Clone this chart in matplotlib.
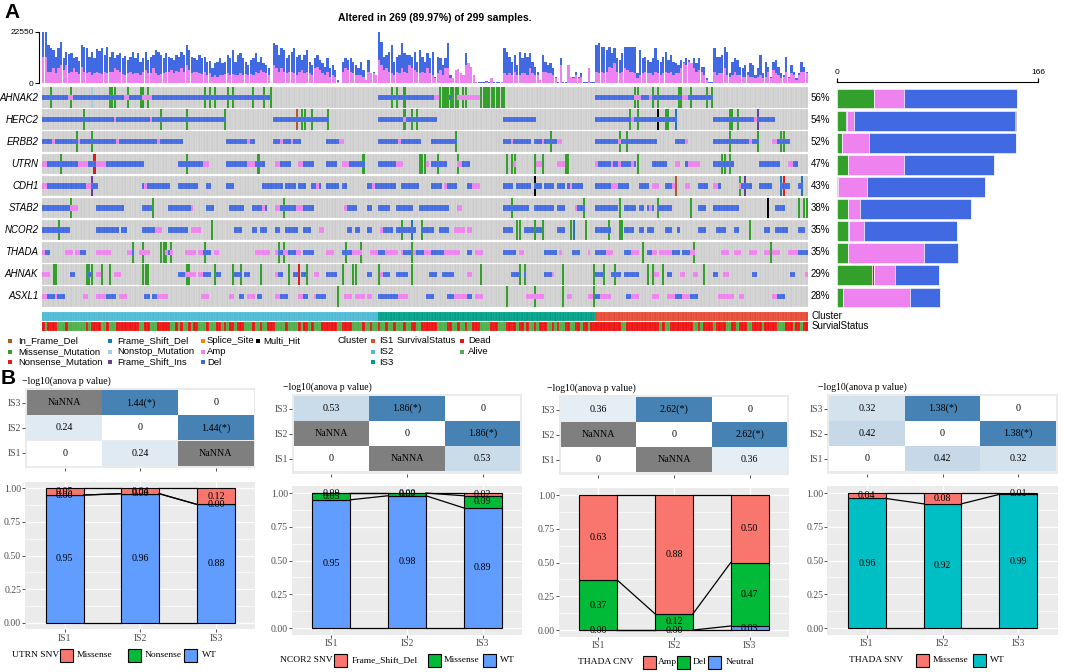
import numpy as np
import matplotlib
matplotlib.use('Agg')
import matplotlib.pyplot as plt
from matplotlib.patches import Rectangle

plt.rcParams['font.family'] = ['Liberation Sans', 'DejaVu Sans']

# ---------------- panel A data ----------------
n_samples = 299
genes = ['AHNAK2', 'HERC2', 'ERBB2', 'UTRN', 'CDH1', 'STAB2', 'NCOR2', 'THADA', 'AHNAK', 'ASXL1']
gene_pct = ['56%', '54%', '52%', '47%', '43%', '38%', '35%', '35%', '29%', '28%']

# sample order: IS2, IS3, IS1
cluster_names = ['IS2', 'IS3', 'IS1']
cluster_sizes = [131, 85, 83]

# dead sample ranges (rest alive)
dead_ranges = [(0, 0), (2, 5), (9, 9), (17, 17), (19, 22), (25, 25), (29, 37), (40, 41), (45, 49),
               (52, 52), (54, 54), (57, 57), (59, 60), (64, 64), (68, 69), (71, 71), (73, 74), (76, 78),
               (82, 82), (85, 85), (88, 90), (95, 95), (100, 100), (102, 103), (105, 105), (109, 114),
               (117, 120), (125, 125), (128, 128), (131, 131), (134, 134), (137, 137), (141, 141),
               (144, 145), (148, 153), (158, 159), (162, 162), (165, 165), (168, 170), (175, 177),
               (181, 184), (186, 187), (189, 189), (192, 192), (194, 196), (199, 199), (201, 201),
               (204, 205), (208, 209), (211, 212), (214, 225), (228, 240), (242, 242), (245, 253),
               (256, 256), (258, 261), (263, 266), (269, 270), (272, 274), (277, 280), (282, 286),
               (290, 292), (294, 295), (297, 298)]

# CNV calls per sample (start, end, type)   D = Del, A = Amp
cnv_AHNAK2 = [(0, 88, 'D'), (10, 11, 'A'), (32, 33, 'A'), (39, 42, 'A'), (131, 152, 'D'), (153, 154, 'A'),
              (159, 159, 'D'), (162, 170, 'A'), (216, 261, 'D'), (231, 233, 'A'), (237, 237, 'A'), (250, 251, 'A')]
cnv_HERC2 = [(0, 71, 'D'), (28, 28, 'A'), (42, 42, 'A'), (90, 111, 'D'), (131, 153, 'D'), (141, 141, 'A'),
             (180, 192, 'D'), (216, 247, 'D'), (230, 230, 'A'), (262, 285, 'D'), (278, 278, 'A')]
cnv_ERBB2 = [(0, 54, 'D'), (4, 4, 'A'), (14, 14, 'A'), (29, 29, 'A'), (45, 45, 'A'), (72, 82, 'D'), (80, 80, 'A'),
             (90, 100, 'D'), (93, 93, 'A'), (97, 97, 'A'), (111, 115, 'D'), (116, 117, 'A'), (131, 147, 'D'),
             (139, 139, 'A'), (152, 161, 'D'), (180, 190, 'D'), (183, 183, 'A'), (192, 200, 'D'), (195, 195, 'A'),
             (201, 202, 'A'), (216, 239, 'D'), (225, 225, 'A'), (247, 250, 'D'), (251, 251, 'A'), (262, 279, 'D'),
             (276, 276, 'A'), (285, 286, 'A'), (287, 291, 'D')]
cnv_UTRN = [(0, 1, 'A'), (2, 13, 'D'), (14, 17, 'A'), (18, 20, 'D'), (21, 24, 'A'), (25, 39, 'D'), (53, 62, 'D'),
            (63, 64, 'A'), (72, 79, 'D'), (80, 82, 'A'), (83, 86, 'D'), (91, 92, 'A'), (93, 96, 'D'), (100, 101, 'A'),
            (102, 105, 'D'), (111, 114, 'D'), (117, 119, 'A'), (120, 125, 'D'), (131, 137, 'D'), (138, 140, 'A'),
            (150, 150, 'A'), (152, 157, 'D'), (162, 163, 'A'), (164, 166, 'D'), (184, 184, 'A'), (193, 194, 'A'),
            (201, 203, 'A'), (216, 231, 'D'), (216, 216, 'A'), (222, 222, 'A'), (225, 225, 'A'), (230, 230, 'A'),
            (238, 243, 'D'), (247, 248, 'A'), (251, 251, 'D'), (252, 256, 'A'), (262, 269, 'D'), (280, 287, 'D'),
            (291, 292, 'A'), (293, 294, 'D')]
cnv_CDH1 = [(0, 1, 'A'), (2, 18, 'D'), (17, 18, 'A'), (19, 21, 'D'), (39, 49, 'D'), (40, 40, 'A'), (53, 60, 'D'),
            (64, 65, 'D'), (72, 74, 'D'), (86, 93, 'D'), (95, 98, 'D'), (100, 102, 'D'), (105, 108, 'D'),
            (107, 107, 'A'), (111, 115, 'D'), (117, 118, 'D'), (127, 137, 'D'), (129, 129, 'A'), (140, 146, 'D'),
            (152, 155, 'D'), (157, 157, 'A'), (158, 161, 'D'), (166, 167, 'D'), (168, 170, 'A'), (180, 183, 'D'),
            (185, 190, 'D'), (192, 194, 'D'), (196, 199, 'D'), (201, 203, 'D'), (205, 210, 'D'), (206, 206, 'A'),
            (216, 228, 'D'), (222, 224, 'A'), (233, 236, 'D'), (238, 240, 'A'), (243, 245, 'D'), (246, 246, 'A'),
            (251, 252, 'A'), (256, 259, 'D'), (262, 263, 'A'), (264, 264, 'D'), (272, 272, 'A'), (273, 276, 'D'),
            (280, 284, 'D'), (288, 291, 'D'), (295, 296, 'D')]
cnv_STAB2 = [(0, 10, 'D'), (11, 13, 'A'), (21, 31, 'D'), (39, 42, 'D'), (49, 57, 'D'), (58, 58, 'A'), (64, 66, 'D'),
             (73, 78, 'D'), (82, 87, 'D'), (86, 86, 'A'), (91, 92, 'A'), (93, 99, 'D'), (99, 99, 'A'),
             (100, 101, 'A'), (102, 105, 'D'), (118, 118, 'A'), (119, 122, 'D'), (127, 128, 'D'), (131, 135, 'D'),
             (138, 144, 'D'), (147, 158, 'D'), (162, 163, 'A'), (180, 189, 'D'), (192, 199, 'D'), (201, 203, 'D'),
             (208, 208, 'A'), (209, 211, 'D'), (216, 224, 'D'), (227, 231, 'D'), (233, 234, 'D'), (236, 238, 'D'),
             (237, 237, 'A'), (240, 245, 'D'), (256, 258, 'D'), (262, 271, 'D'), (286, 289, 'D')]
cnv_NCOR2 = [(0, 10, 'D'), (21, 29, 'D'), (31, 32, 'D'), (39, 46, 'D'), (44, 46, 'A'), (49, 56, 'D'), (58, 61, 'A'),
             (75, 77, 'D'), (82, 83, 'D'), (85, 87, 'D'), (91, 92, 'D'), (95, 99, 'D'), (102, 104, 'D'),
             (108, 109, 'A'), (119, 120, 'D'), (122, 123, 'D'), (127, 128, 'D'), (132, 136, 'D'), (132, 132, 'A'),
             (138, 145, 'D'), (148, 152, 'D'), (155, 158, 'D'), (161, 164, 'A'), (166, 167, 'A'), (180, 183, 'D'),
             (188, 191, 'D'), (193, 194, 'D'), (201, 203, 'D'), (216, 221, 'D'), (227, 230, 'D'), (233, 234, 'D'),
             (236, 238, 'D'), (243, 245, 'D'), (248, 248, 'D'), (256, 258, 'D'), (263, 266, 'D'), (270, 271, 'D'),
             (282, 283, 'D'), (286, 290, 'D'), (295, 297, 'D')]
cnv_THADA = [(0, 0, 'A'), (1, 2, 'D'), (9, 11, 'A'), (13, 14, 'A'), (15, 16, 'D'), (21, 26, 'A'), (33, 34, 'A'),
             (35, 35, 'D'), (38, 41, 'A'), (48, 50, 'A'), (49, 49, 'D'), (56, 59, 'A'), (61, 62, 'A'), (63, 65, 'D'),
             (67, 68, 'A'), (83, 88, 'A'), (91, 100, 'A'), (92, 93, 'D'), (96, 98, 'D'), (102, 105, 'D'),
             (111, 113, 'A'), (117, 120, 'D'), (121, 124, 'A'), (128, 130, 'A'), (131, 133, 'D'), (134, 138, 'A'),
             (140, 140, 'A'), (141, 143, 'D'), (145, 151, 'A'), (146, 148, 'D'), (152, 156, 'D'), (157, 162, 'A'),
             (166, 167, 'D'), (169, 171, 'A'), (180, 184, 'D'), (186, 187, 'A'), (196, 200, 'D'), (202, 202, 'A'),
             (207, 209, 'D'), (213, 213, 'A'), (216, 219, 'D'), (220, 222, 'A'), (227, 229, 'D'), (230, 232, 'A'),
             (236, 237, 'D'), (238, 239, 'A'), (241, 245, 'A'), (246, 248, 'D'), (250, 252, 'D'), (253, 254, 'A'),
             (265, 267, 'A'), (270, 272, 'A'), (276, 278, 'A'), (282, 283, 'A'), (285, 287, 'A'), (291, 294, 'A'),
             (295, 298, 'D')]
cnv_AHNAK = [(0, 2, 'A'), (11, 12, 'D'), (18, 18, 'D'), (21, 22, 'A'), (28, 30, 'A'), (53, 55, 'D'), (56, 59, 'A'),
             (61, 62, 'A'), (63, 65, 'D'), (68, 69, 'D'), (75, 77, 'D'), (79, 80, 'D'), (91, 91, 'A'), (92, 93, 'D'),
             (98, 99, 'D'), (101, 102, 'D'), (106, 107, 'A'), (111, 114, 'D'), (127, 128, 'D'), (132, 132, 'A'),
             (133, 135, 'D'), (138, 142, 'D'), (151, 153, 'D'), (156, 160, 'D'), (166, 167, 'A'), (183, 185, 'D'),
             (188, 188, 'D'), (196, 198, 'D'), (199, 199, 'A'), (216, 218, 'D'), (222, 225, 'D'), (227, 232, 'D'),
             (239, 240, 'A'), (244, 245, 'D'), (249, 250, 'A'), (254, 255, 'A'), (262, 263, 'D'), (266, 267, 'A'),
             (277, 278, 'D'), (292, 293, 'D'), (298, 298, 'A')]
cnv_ASXL1 = [(0, 1, 'A'), (2, 4, 'D'), (5, 5, 'A'), (6, 8, 'D'), (16, 17, 'A'), (21, 24, 'A'), (25, 28, 'D'),
             (30, 32, 'A'), (40, 41, 'D'), (43, 44, 'D'), (45, 48, 'A'), (62, 64, 'A'), (73, 74, 'A'), (77, 78, 'D'),
             (80, 82, 'A'), (84, 85, 'D'), (91, 92, 'A'), (93, 95, 'D'), (100, 101, 'A'), (102, 103, 'D'),
             (106, 106, 'A'), (107, 110, 'D'), (118, 120, 'A'), (122, 125, 'A'), (127, 128, 'A'), (131, 138, 'D'),
             (139, 142, 'A'), (150, 152, 'D'), (158, 160, 'D'), (161, 165, 'A'), (166, 167, 'D'), (169, 171, 'A'),
             (189, 195, 'A'), (205, 206, 'A'), (213, 214, 'A'), (216, 217, 'D'), (218, 221, 'A'), (228, 229, 'D'),
             (230, 232, 'A'), (238, 240, 'A'), (244, 246, 'A'), (247, 249, 'D'), (250, 252, 'A'), (253, 255, 'D'),
             (264, 269, 'A'), (272, 273, 'A'), (285, 286, 'A'), (287, 289, 'D')]

# mutation calls per sample (start, end, class)
# M Missense, N Nonsense, F Frame_Shift_Del, I Frame_Shift_Ins, R In_Frame_Del, T Nonstop, X Multi_Hit
snv_AHNAK2 = [(3, 3, 'M'), (11, 11, 'M'), (19, 19, 'T'), (26, 28, 'M'), (33, 33, 'M'), (38, 39, 'M'), (41, 41, 'M'),
              (63, 63, 'M'), (65, 65, 'M'), (67, 67, 'M'), (72, 72, 'M'), (74, 74, 'M'), (82, 82, 'M'), (86, 86, 'M'),
              (89, 89, 'M'), (136, 136, 'M'), (138, 138, 'M'), (141, 141, 'M'), (155, 162, 'M'), (164, 165, 'M'),
              (171, 180, 'M'), (231, 232, 'M'), (238, 238, 'M'), (240, 240, 'M'), (248, 249, 'M'), (253, 253, 'M'),
              (259, 259, 'M'), (261, 261, 'M')]
snv_HERC2 = [(16, 16, 'M'), (46, 46, 'M'), (56, 56, 'M'), (71, 71, 'M'), (99, 99, 'R'), (101, 102, 'M'),
             (105, 105, 'M'), (111, 111, 'M'), (141, 141, 'M'), (144, 144, 'M'), (146, 146, 'M'), (229, 229, 'M'),
             (232, 232, 'M'), (240, 240, 'X'), (243, 244, 'M'), (247, 247, 'F'), (268, 269, 'M'), (271, 271, 'M'),
             (279, 279, 'I')]
snv_ERBB2 = [(13, 13, 'M'), (19, 19, 'M'), (161, 161, 'M'), (198, 198, 'M'), (225, 225, 'M'), (228, 228, 'M'),
             (268, 268, 'M'), (279, 279, 'M'), (288, 289, 'M')]
snv_UTRN = [(7, 7, 'M'), (20, 20, 'N'), (56, 56, 'M'), (84, 84, 'M'), (125, 125, 'M'), (147, 149, 'M'),
            (154, 154, 'M'), (162, 162, 'M'), (181, 181, 'M'), (183, 184, 'M'), (192, 192, 'M'), (195, 195, 'M'),
            (204, 205, 'M'), (232, 232, 'M'), (265, 266, 'M'), (268, 268, 'M')]
snv_CDH1 = [(19, 19, 'I'), (192, 192, 'X'), (247, 247, 'R'), (272, 272, 'M'), (274, 274, 'I'), (288, 288, 'F'),
            (289, 289, 'N'), (296, 296, 'F')]
snv_STAB2 = [(11, 11, 'M'), (43, 43, 'M'), (94, 94, 'M'), (183, 183, 'M'), (211, 211, 'M'), (225, 225, 'M'),
             (240, 240, 'M'), (253, 253, 'M'), (283, 283, 'X'), (295, 295, 'M'), (297, 298, 'M')]
snv_NCOR2 = [(6, 6, 'M'), (66, 66, 'M'), (140, 140, 'M'), (144, 144, 'F'), (148, 148, 'M'), (185, 186, 'M'),
             (192, 192, 'M'), (195, 195, 'M'), (206, 206, 'M'), (207, 207, 'F'), (212, 212, 'M'), (221, 221, 'M'),
             (225, 226, 'M'), (276, 276, 'M')]
snv_THADA = [(35, 35, 'M'), (39, 39, 'M'), (46, 48, 'M'), (50, 50, 'M'), (63, 63, 'M'), (92, 92, 'M'), (94, 94, 'M'),
             (118, 118, 'M'), (124, 124, 'M'), (144, 144, 'M'), (234, 234, 'M'), (254, 254, 'M'), (284, 284, 'M')]
snv_AHNAK = [(4, 5, 'M'), (17, 19, 'M'), (23, 23, 'M'), (26, 26, 'M'), (39, 41, 'M'), (56, 57, 'M'), (67, 67, 'M'),
             (74, 74, 'M'), (77, 77, 'M'), (85, 85, 'M'), (96, 96, 'M'), (100, 100, 'N'), (103, 103, 'M'),
             (117, 117, 'M'), (121, 122, 'M'), (131, 131, 'M'), (144, 144, 'M'), (171, 171, 'M'), (186, 186, 'M'),
             (188, 188, 'M'), (203, 203, 'M'), (215, 215, 'M'), (219, 219, 'M'), (223, 223, 'M'), (236, 236, 'M'),
             (238, 238, 'M'), (242, 242, 'M'), (258, 258, 'M')]
snv_ASXL1 = [(115, 115, 'M'), (181, 181, 'M'), (192, 192, 'M'), (203, 203, 'M'), (215, 215, 'M')]

# per-sample CNV burden (top bar): total and amplified part
cnv_total = [22500, 22400, 16800, 15300, 14600, 11600, 15600, 18300, 10900, 13900,
             12700, 13100, 10900, 11600, 9700, 16800, 16100, 15300, 11600, 13900,
             10900, 15000, 14200, 15600, 12400, 16100, 11600, 13900, 10900, 12400,
             13100, 10900, 12100, 10200, 11600, 13900, 10900, 13100, 9400, 10900,
             13900, 10200, 11600, 12400, 14600, 13900, 12400, 10900, 13100, 11600,
             10900, 10200, 12400, 11600, 13900, 12400, 16800, 14600, 11600, 10900,
             10200, 12400, 10900, 11600, 9400, 9700, 6500, 8700, 9400, 10900,
             8700, 9400, 12400, 10900, 14600, 9400, 12400, 13100, 10900, 9400,
             8000, 10200, 10900, 13100, 9400, 11600, 8700, 8000, 6500, 0,
             17500, 16800, 12400, 15300, 14600, 10900, 12400, 13900, 15300, 11600,
             12400, 10200, 12400, 14600, 9400, 8000, 10900, 12400, 10200, 8700,
             7200, 10900, 6500, 8000, 5700, 1300, 0, 9400, 10900, 10200,
             10900, 9400, 8000, 6500, 9400, 5700, 1300, 10200, 4300, 5000,
             3500,
             22500, 18300, 11600, 12400, 13900, 16800, 9400, 11600, 12400,
             17500, 13100, 12400, 12400, 11600, 13900, 9400, 14600, 11600, 9400,
             13100, 10900, 13900, 2800, 11600, 10900, 8000, 10900, 17500, 3500,
             2000, 5700, 6000, 4300, 3500, 13100, 8700, 7200, 3500, 600,
             300, 600, 300, 900, 300, 2000, 300, 600, 300, 600,
             15300, 13900, 11600, 9400, 12400, 8000, 13900, 10900, 13100, 11600,
             13100, 9400, 7200, 5000, 1300, 12400, 9400, 8000, 9000, 6500,
             2800, 600, 10900, 600, 600, 8000, 2800, 2800, 5000, 2800,
             4300, 600, 600, 6500, 300, 300,
             16800, 17500, 16100, 16100,
             14600, 16100, 13100, 15300, 10900, 10200, 13100, 16100, 16100, 16100,
             16100, 16100, 4300, 14600, 10900, 11600, 10200, 9400, 10900, 15300,
             10200, 9400, 11600, 13900, 10200, 12400, 9400, 8700, 8000, 10200,
             9400, 10900, 10200, 8700, 10900, 8700, 10900, 7200, 7200, 2000,
             600, 600, 15300, 11600, 11600, 12400, 16100, 13900, 4300, 9400,
             10900, 10200, 7200, 6500, 8000, 5000, 8700, 8000, 3500, 6500,
             12400, 4300, 9400, 7200, 2800, 9400, 10200, 7200, 4300, 3500,
             11600, 2800, 8000, 5000, 2000, 4300, 9400, 7200, 5000]
cnv_amp = [11600, 11600, 5000, 5000, 6500, 4300, 6500, 8000, 5700, 8000,
           4300, 5000, 6500, 5000, 3800, 7200, 5000, 4300, 5000, 3500,
           4300, 5000, 4300, 3800, 5000, 4300, 5000, 5000, 6500, 5700,
           5000, 3800, 3500, 4300, 5000, 3800, 4300, 4300, 3500, 5000,
           5700, 4300, 4300, 6500, 4300, 3500, 3800, 4300, 5000, 5000,
           5700, 4300, 5300, 5000, 6500, 5000, 8000, 5700, 4300, 5000,
           5000, 4300, 3800, 5000, 3500, 4300, 2800, 3500, 2800, 3500,
           3500, 3800, 4300, 3500, 3800, 3500, 3500, 4300, 3500, 3800,
           3500, 3800, 3500, 5000, 4300, 5700, 5000, 4300, 3500, 0,
           8000, 6500, 5000, 6500, 5000, 4300, 5000, 5000, 4300, 3500,
           5000, 5700, 4300, 5000, 4300, 3500, 6500, 7200, 5700, 4300,
           3500, 5000, 2800, 3500, 2800, 600, 0, 5000, 6500, 5700,
           5000, 4300, 3500, 3500, 3500, 2800, 1300, 5000, 4300, 4300,
           3500,
           10200, 8000, 5700, 6500, 5000, 4300, 3500, 5000, 4300,
           6500, 5000, 4300, 8000, 6500, 5700, 5000, 4300, 5000, 4300,
           6500, 4300, 3500, 2000, 4300, 5700, 3500, 6500, 6500, 2000,
           2000, 5700, 6000, 4300, 3500, 8000, 8700, 7200, 3500, 600,
           0, 0, 0, 300, 0, 2000, 0, 0, 0, 300,
           4300, 3500, 4300, 3500, 5000, 3500, 3500, 4300, 4300, 3500,
           6500, 4300, 3500, 3500, 1300, 5000, 5000, 4300, 4300, 3500,
           2000, 0, 8000, 0, 0, 8000, 2800, 2000, 3500, 2000,
           2800, 0, 0, 6500, 0, 0,
           5000, 4300, 5000, 4300,
           5000, 7200, 6500, 8700, 5000, 4300, 5000, 6500, 5700, 5000,
           5000, 4300, 2000, 3500, 4300, 5000, 4300, 4300, 3500, 5000,
           4300, 3500, 4300, 5000, 4300, 5000, 3500, 4300, 4300, 6500,
           8700, 8000, 9400, 8700, 6500, 5000, 5700, 5000, 3500, 1300,
           0, 0, 5000, 3500, 4300, 4300, 6500, 3500, 2800, 3500,
           5000, 3500, 3500, 2800, 2800, 3500, 2800, 2800, 2000, 2800,
           3500, 2000, 2800, 5000, 2000, 5700, 4300, 3500, 2000, 2800,
           5000, 2000, 4300, 3500, 1300, 3500, 5000, 5000, 4300]

# right side bar: counts per gene
rb_missense = [30.3, 7.2, 3.9, 8.8, 0, 8.8, 8.8, 8.8, 29.2, 5.0]
rb_nonsense = [0, 0, 0, 0, 0, 0, 0, 0, 1.1, 0]
rb_fsd = [0, 0, 0, 0, 0, 0, 1.1, 0, 0, 0]
rb_fsi = [0, 0.8, 0, 0, 0.8, 0, 0, 0, 0, 0]
rb_amp = [24.8, 6.1, 22.3, 46.2, 24.2, 10.2, 12.1, 63.3, 17.6, 55.0]
rb_del = [93.9, 133.2, 121.9, 74.9, 96.9, 91.9, 77.1, 27.8, 36.1, 25.0]
rb_multi = [0, 0.8, 0, 0, 0, 0, 0, 0, 0, 0]

# ---------------- panel B data ----------------
groups = ['IS1', 'IS2', 'IS3']
# heatmap rows from top: IS3, IS2, IS1 ; columns IS1, IS2, IS3
hm_utrn = [[np.nan, 1.44, 0], [0.24, 0, 1.44], [0, 0.24, np.nan]]
hm_ncor2 = [[0.53, 1.86, 0], [np.nan, 0, 1.86], [0, np.nan, 0.53]]
hm_thada_cnv = [[0.36, 2.62, 0], [np.nan, 0, 2.62], [0, np.nan, 0.36]]
hm_thada_snv = [[0.32, 1.38, 0], [0.42, 0, 1.38], [0, 0.42, 0.32]]
hm_sig = [[0, 1, 0], [0, 0, 1], [0, 0, 0]]

utrn_cats = ['Missense', 'Nonsense', 'WT']
utrn_props = [[0.05, 0.04, 0.12], [0.00, 0.00, 0.00], [0.95, 0.96, 0.88]]
ncor2_cats = ['Frame_Shift_Del', 'Missense', 'WT']
ncor2_props = [[0.00, 0.00, 0.02], [0.05, 0.02, 0.09], [0.95, 0.98, 0.89]]
thada_cnv_cats = ['Amp', 'Del', 'Neutral']
thada_cnv_props = [[0.63, 0.88, 0.50], [0.37, 0.12, 0.47], [0.00, 0.00, 0.03]]
thada_snv_cats = ['Missense', 'WT']
thada_snv_props = [[0.04, 0.08, 0.01], [0.96, 0.92, 0.99]]

# ---------------- colours ----------------
amp_col = '#EE82EE'
del_col = '#4169E1'
snv_colors = {'M': '#33A02C', 'N': '#E31A1C', 'F': '#1F78B4', 'I': '#6A3D9A',
              'R': '#B15928', 'T': '#A6CEE3', 'X': 'black'}
cluster_colors = {'IS1': '#E64B35', 'IS2': '#4DBBD5', 'IS3': '#00A087'}
dead_col, alive_col = '#EE1111', '#4DAF4A'
hue3 = ['#F8766D', '#00BA38', '#619CFF']
hue2 = ['#F8766D', '#00BFC4']

W, H = 1065, 672
fig = plt.figure(figsize=(W / 100, H / 100), dpi=100)


def px_axes(x0, y0, x1, y1):
    return fig.add_axes([x0 / W, 1 - y1 / H, (x1 - x0) / W, (y1 - y0) / H])


def px_text(x, y, s, **kw):
    fig.text(x / W, 1 - y / H, s, **kw)


def px_box(x, y, w, h, color, ec='none', lw=0):
    fig.add_artist(Rectangle((x / W, 1 - (y + h) / H), w / W, h / H, transform=fig.transFigure,
                             facecolor=color, edgecolor=ec, linewidth=lw))


def expand(segs, n):
    row = ['.'] * n
    for a, b, c in segs:
        for i in range(a, b + 1):
            row[i] = c
    return row


def clean(ax):
    for s in ax.spines.values():
        s.set_visible(False)
    ax.set_xticks([])
    ax.set_yticks([])


xs = np.arange(n_samples) + 0.5

# ---- title / label A
px_text(4, 12, 'A', fontsize=15, fontweight='bold', va='center')
px_text(435, 18, 'Altered in 269 (89.97%) of 299 samples.', fontsize=7.5, fontweight='bold',
        ha='center', va='center')

# ---- top bar
ax_top = px_axes(42, 32, 808, 83)
amp = np.array(cnv_amp)
dele = np.array(cnv_total) - amp
ax_top.bar(xs, amp, width=0.9, color=amp_col, linewidth=0)
ax_top.bar(xs, dele, bottom=amp, width=0.9, color=del_col, linewidth=0)
ax_top.set_xlim(0, n_samples)
ax_top.set_ylim(0, 22550)
for s in ['top', 'right', 'bottom']:
    ax_top.spines[s].set_visible(False)
ax_top.spines['left'].set_position(('outward', 2))
ax_top.spines['left'].set_linewidth(0.8)
ax_top.set_xticks([])
ax_top.set_yticks([0, 22550])
ax_top.tick_params(axis='y', length=3, width=0.8, labelsize=6, pad=1)

# ---- oncoplot
cnv_rows = [cnv_AHNAK2, cnv_HERC2, cnv_ERBB2, cnv_UTRN, cnv_CDH1, cnv_STAB2, cnv_NCOR2, cnv_THADA, cnv_AHNAK, cnv_ASXL1]
snv_rows = [snv_AHNAK2, snv_HERC2, snv_ERBB2, snv_UTRN, snv_CDH1, snv_STAB2, snv_NCOR2, snv_THADA, snv_AHNAK, snv_ASXL1]
ax_onc = px_axes(42, 86.5, 808, 307.5)
for r, g in enumerate(genes):
    ax_onc.bar(xs, 0.93, bottom=r + 0.035, width=1, color='#CCCCCC', edgecolor='white', linewidth=0.15)
    snv = expand(snv_rows[r], n_samples)
    for code, col in snv_colors.items():
        idx = np.array([i for i, c in enumerate(snv) if c == code])
        if len(idx):
            ax_onc.bar(idx + 0.5, 0.93, bottom=r + 0.035, width=0.8, color=col, linewidth=0)
    cnv = expand(cnv_rows[r], n_samples)
    for code, col in (('A', amp_col), ('D', del_col)):
        idx = np.array([i for i, c in enumerate(cnv) if c == code])
        if len(idx):
            ax_onc.bar(idx + 0.5, 0.24, bottom=r + 0.38, width=1, color=col,
                       edgecolor=(1, 1, 1, 0.35), linewidth=0.15)
    ax_onc.text(-1.4, r + 0.5, g, ha='right', va='center', fontsize=7, style='italic')
    ax_onc.text(300, r + 0.5, gene_pct[r], ha='left', va='center', fontsize=7)
ax_onc.set_xlim(0, n_samples)
ax_onc.set_ylim(10, 0)
clean(ax_onc)

# ---- right bar
ax_rb = px_axes(837, 87.5, 1038, 308.5)
ys = np.arange(len(genes)) + 0.5
left = np.zeros(len(genes))
for vals, col in ((rb_missense, snv_colors['M']), (rb_nonsense, snv_colors['N']), (rb_fsd, snv_colors['F']),
                  (rb_fsi, snv_colors['I']), (rb_amp, amp_col), (rb_del, del_col), (rb_multi, 'black')):
    ax_rb.barh(ys, vals, left=left, height=0.9, color=col, edgecolor='white', linewidth=0.4)
    left += np.array(vals)
ax_rb.set_xlim(0, 166)
ax_rb.set_ylim(10, 0)
for s in ['bottom', 'right', 'left']:
    ax_rb.spines[s].set_visible(False)
ax_rb.spines['top'].set_position(('outward', 4))
ax_rb.spines['top'].set_linewidth(0.8)
ax_rb.xaxis.set_ticks_position('top')
ax_rb.set_xticks([0, 166])
ax_rb.set_yticks([])
ax_rb.tick_params(axis='x', length=3, width=0.8, labelsize=6, pad=1)

# ---- annotation bars
clusters = []
for name, size in zip(cluster_names, cluster_sizes):
    clusters += [name] * size
status = ['Alive'] * n_samples
for a, b in dead_ranges:
    for i in range(a, b + 1):
        status[i] = 'Dead'
ax_cl = px_axes(42, 312, 808, 320.5)
ax_cl.bar(xs, 1, width=1, color=[cluster_colors[c] for c in clusters], edgecolor=(1, 1, 1, 0.4), linewidth=0.15)
ax_sv = px_axes(42, 321.5, 808, 330.5)
ax_sv.bar(xs, 1, width=1, color=[dead_col if s == 'Dead' else alive_col for s in status],
          edgecolor=(1, 1, 1, 0.4), linewidth=0.15)
for a in (ax_cl, ax_sv):
    a.set_xlim(0, n_samples)
    a.set_ylim(0, 1)
    clean(a)
px_text(812, 316, 'Cluster', fontsize=7, va='center')
px_text(812, 326, 'SurvialStatus', fontsize=7, va='center')

# ---- legend A
leg_rows = [340.7, 351.5, 362.2]
leg_cols = [
    (8, 18, [('In_Frame_Del', snv_colors['R']), ('Missense_Mutation', snv_colors['M']),
             ('Nonsense_Mutation', snv_colors['N'])]),
    (108, 117, [('Frame_Shift_Del', snv_colors['F']), ('Nonstop_Mutation', snv_colors['T']),
                ('Frame_Shift_Ins', snv_colors['I'])]),
    (201, 207, [('Splice_Site', '#FF7F00'), ('Amp', amp_col), ('Del', del_col)]),
    (256, 263, [('Multi_Hit', 'black')]),
    (371, 379, [('IS1', cluster_colors['IS1']), ('IS2', cluster_colors['IS2']), ('IS3', cluster_colors['IS3'])]),
    (460, 468, [('Dead', dead_col), ('Alive', alive_col)]),
]
for mx, tx, items in leg_cols:
    for k, (lab, col) in enumerate(items):
        px_box(mx, leg_rows[k] - 2, 4, 4, col)
        px_text(tx, leg_rows[k], lab, fontsize=6.8, va='center')
px_text(338, leg_rows[0], 'Cluster', fontsize=6.8, va='center')
px_text(397, leg_rows[0], 'SurvivalStatus', fontsize=6.6, va='center')

# ---------------- panel B ----------------
px_text(1, 378, 'B', fontsize=15, fontweight='bold', va='center')
serif = 'Liberation Serif'
steel = np.array([70, 130, 180]) / 255.0


def heat_col(v, vmax):
    if np.isnan(v):
        return '#7F7F7F'
    t = v / vmax
    return tuple(np.ones(3) * (1 - t) + steel * t)


def heat_label(v, sig):
    if np.isnan(v):
        return 'NaNNA'
    if v == 0:
        return '0'
    return '%.2f' % v + ('(*)' if sig else '')


def panel_b(cx, hm_y, bar_y, title_xy, hm, cats, props, cols, leg_y, leg_title_x, leg_title, leg_items):
    x0, x1 = cx - 1.52 * 75.66, cx + 1.52 * 75.66
    # heatmap
    ax = px_axes(x0, hm_y[0], x1, hm_y[1])
    ax.set_facecolor('#EBEBEB')
    vals = np.array(hm, dtype=float)
    vmax = np.nanmax(vals)
    for k in range(3):
        yrow = 3 - k
        ax.bar([1, 2, 3], 1, bottom=yrow - 0.5, width=1,
               color=[heat_col(v, vmax) for v in vals[k]], linewidth=0)
        for i in range(3):
            ax.text(i + 1, yrow, heat_label(vals[k, i], hm_sig[k][i]), ha='center', va='center',
                    fontsize=7.2, family=serif)
    ax.set_xlim(0.48, 3.52)
    ax.set_ylim(0.4, 3.6)
    for s in ax.spines.values():
        s.set_visible(False)
    ax.set_xticks([1, 2, 3])
    ax.set_xticklabels([])
    ax.set_yticks([1, 2, 3])
    ax.set_yticklabels(groups, family=serif)
    ax.tick_params(length=2, width=0.6, color='#333333', labelsize=7, labelcolor='#4D4D4D', pad=1)
    px_text(title_xy[0], title_xy[1], '\u2212log10(anova p value)', fontsize=7, family=serif, va='center')

    # stacked bars
    bx = px_axes(x0, bar_y[0], x1, bar_y[1])
    bx.set_facecolor('#EBEBEB')
    bx.set_axisbelow(True)
    bx.set_xlim(0.48, 3.52)
    bx.set_ylim(-0.05, 1.05)
    bx.set_yticks([0, 0.25, 0.5, 0.75, 1.0])
    bx.set_yticklabels(['0.00', '0.25', '0.50', '0.75', '1.00'], family=serif)
    bx.set_yticks([0.125, 0.375, 0.625, 0.875], minor=True)
    bx.set_xticks([1, 2, 3])
    bx.set_xticklabels(groups, family=serif)
    bx.grid(which='major', color='white', linewidth=0.9)
    bx.grid(which='minor', axis='y', color='white', linewidth=0.45)
    bx.tick_params(which='minor', length=0)
    bx.tick_params(which='major', length=2, width=0.6, color='#333333', labelsize=7,
                   labelcolor='#4D4D4D', pad=1)
    for s in bx.spines.values():
        s.set_visible(False)
    p = np.array(props, dtype=float)
    bottom = np.zeros(3)
    levels = [bottom.copy()]
    for k in range(len(cats) - 1, -1, -1):
        bx.bar([1, 2, 3], p[k], bottom=bottom, width=0.5, color=cols[k], edgecolor='black', linewidth=0.8)
        for i in range(3):
            bx.text(i + 1, bottom[i] + p[k][i] / 2, '%.2f' % p[k][i], ha='center', va='center',
                    fontsize=7.2, family=serif)
        bottom = bottom + p[k]
        levels.append(bottom.copy())
    for lv in levels:
        for i in range(2):
            bx.plot([i + 1.25, i + 1.75], [lv[i], lv[i + 1]], color='black', linewidth=0.9)

    # legend
    px_text(leg_title_x, leg_y, leg_title, fontsize=6.8, family=serif, va='center')
    for (bxp, txp), lab, col in zip(leg_items, cats, cols):
        px_box(bxp, leg_y - 6.5, 13, 13, col, ec='black', lw=0.8)
        px_text(txp, leg_y, lab, fontsize=6.8, family=serif, va='center')


panel_b(140.3, (388, 468), (481.6, 629.4), (22, 381), hm_utrn, utrn_cats, utrn_props, hue3,
        655, 12, 'UTRN SNV', [(60, 77), (128, 145), (184, 202)])
panel_b(407, (393.5, 473.5), (486.3, 634.8), (283, 387), hm_ncor2, ncor2_cats, ncor2_props, hue3,
        660, 280, 'NCOR2 SNV', [(334, 352), (428, 444), (483, 500)])
panel_b(674, (394.5, 474.5), (488.3, 636.8), (547, 388), hm_thada_cnv, thada_cnv_cats, thada_cnv_props, hue3,
        662, 578, 'THADA CNV', [(643, 658), (677, 693), (708, 726)])
panel_b(942.5, (393.5, 473.5), (486.3, 634.8), (818, 387), hm_thada_snv, thada_snv_cats, thada_snv_props, hue2,
        660, 849, 'THADA SNV', [(916, 933), (973, 990)])

fig.savefig('out.png', dpi=100)
